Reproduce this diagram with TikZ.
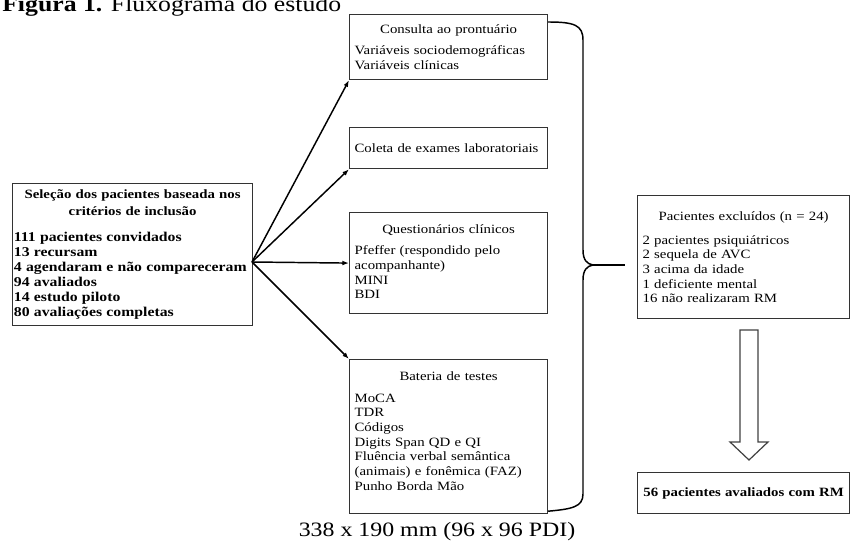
\documentclass[tikz,border=0pt]{standalone}
\usepackage{fontspec}
\setmainfont[FakeStretch=1.17]{Liberation Serif}
\usetikzlibrary{arrows.meta,calc,positioning}

\tikzset{
  infobox/.style={draw=black!80,line width=0.9pt,anchor=north west,inner xsep=3.75pt,
    font=\fontsize{9.5}{11}\selectfont},
  link/.style={line width=1.1pt,-{Latex[length=5pt,width=3.6pt]}},
  brace/.style={line width=1.1pt,line join=round}
}

\begin{document}
\begin{tikzpicture}[x=0.75pt,y=-0.75pt,>=Latex]
  \useasboundingbox (0,0) rectangle (851,549);

  % Title (cut at the top)
  \node[anchor=base west,inner sep=0pt,font=\fontsize{16.5}{18}\selectfont] (title) at (2,12)
    {\textbf{Figura 1.} Fluxograma do estudo};

  % Selection box
  \node[infobox,inner xsep=1pt,text width=178pt,minimum height=106.5pt] (sel) at (12,183)
    {{\centering\fontsize{9.5}{12.75}\selectfont\textbf{Seleção dos pacientes baseada nos\\critérios de inclusão}\par}\vspace{8pt}
     \raggedright\fontsize{10.1}{11.25}\selectfont\textbf{111 pacientes convidados\\13 recursam\\4 agendaram e não compareceram\\
     94 avaliados\\14 estudo piloto\\80 avaliações completas}};
  \coordinate (hub) at (252,262);

  % Study steps
  \node[infobox,text width=141pt,minimum height=48.75pt] (consulta) at (349,14)
    {{\centering Consulta ao prontuário\par}\vspace{5pt}
     \raggedright Variáveis sociodemográficas\\Variáveis clínicas};
  \node[infobox,text width=141pt,minimum height=30.75pt] (coleta) at (349,127)
    {\raggedright Coleta de exames laboratoriais};
  \node[infobox,text width=141pt,minimum height=75.75pt] (quest) at (349,212)
    {{\centering Questionários clínicos\par}\vspace{5pt}
     \raggedright Pfeffer (respondido pelo\\acompanhante)\\MINI\\BDI\vspace{2pt}};
  \node[infobox,text width=141pt,minimum height=115.5pt] (bateria) at (349,359)
    {{\centering Bateria de testes\par}\vspace{5pt}
     \raggedright MoCA\\TDR\\Códigos\\Digits Span QD e QI\\Fluência verbal semântica\\
     (animais) e fonêmica (FAZ)\\Punho Borda Mão\vspace{8pt}};

  \draw[link] (hub) -- (consulta.south west);
  \draw[link] (hub) -- (coleta.south west);
  \draw[link] (hub) -- (quest.west);
  \draw[link] (hub) -- (bateria.north west);

  % Brace gathering the four steps
  \coordinate (cusp) at (593,265);
  \draw[brace] ([yshift=-6pt]consulta.north east) .. controls (574,22) and (583,25) .. (583,40)
    -- (583,250) .. controls (583,260) and (587,264) .. (cusp)
    .. controls (587,266) and (583,270) .. (583,280)
    -- (583,494) .. controls (583,507) and (572,509) .. ([yshift=2.25pt]bateria.south east);

  % Excluded patients
  \node[infobox,text width=151.5pt,minimum height=92.25pt] (excl) at (637,195)
    {{\centering Pacientes excluídos (n = 24)\par}\vspace{7pt}
     \raggedright 2 pacientes psiquiátricos\\2 sequela de AVC\\3 acima da idade\\
     1 deficiente mental\\16 não realizaram RM};
  \draw[brace] (cusp) -- ([xshift=-9pt]excl.west |- cusp);

  \node[infobox,text width=151.5pt,minimum height=30.75pt,align=center] (final) at (637,472)
    {\textbf{56 pacientes avaliados com RM}};

  % Hollow block arrow
  \draw[black!75,line width=0.9pt,line join=miter]
    (740,330) -- (758,330) -- (758,442) -- (768,442) -- (749,460) -- (730,442) -- (740,442) -- cycle;

  % Caption
  \node[anchor=base,inner sep=0pt,font=\fontsize{15.3}{18}\selectfont] (caption) at (437,537)
    {338 x 190 mm (96 x 96 PDI)};
\end{tikzpicture}
\end{document}
